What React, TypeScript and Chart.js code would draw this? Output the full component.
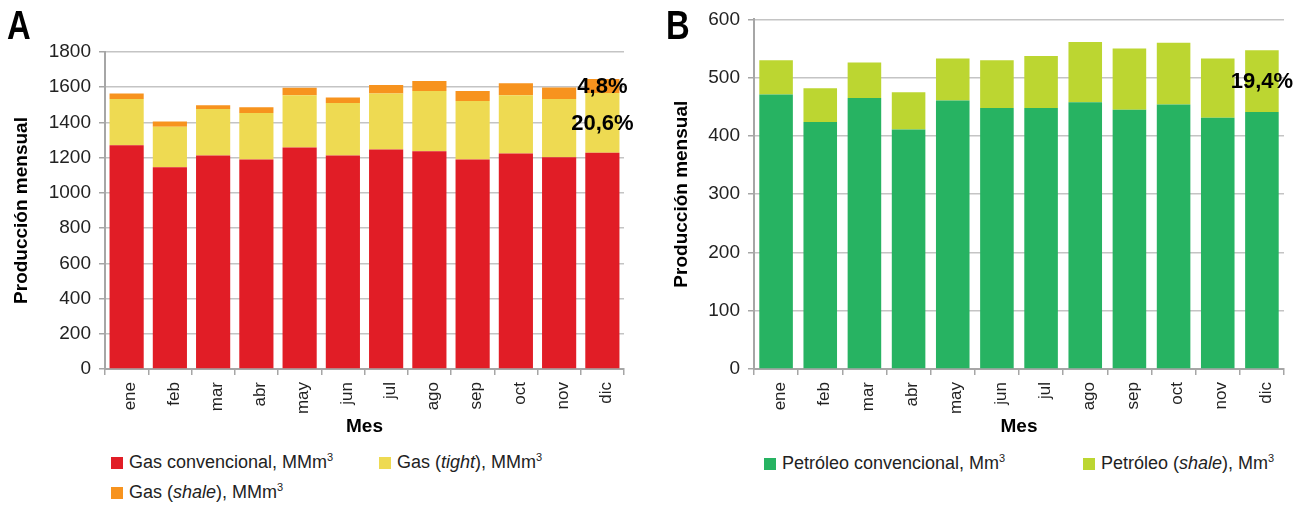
import React, { useEffect, useRef } from 'react';
import { Chart, registerables } from 'chart.js';

Chart.register(...registerables);

const months = ['ene', 'feb', 'mar', 'abr', 'may', 'jun', 'jul', 'ago', 'sep', 'oct', 'nov', 'dic'];
const gasConvencional = [1270, 1145, 1213, 1190, 1258, 1213, 1247, 1236, 1190, 1224, 1202, 1228];
const gasTight = [263, 231, 263, 264, 296, 297, 318, 343, 332, 330, 331, 339];
const gasShale = [32, 30, 21, 32, 43, 32, 48, 56, 57, 68, 66, 79];
const petroleoConvencional = [471, 424, 465, 411, 461, 448, 448, 458, 445, 454, 431, 441];
const petroleoShale = [59, 58, 61, 64, 72, 82, 89, 103, 105, 106, 102, 106];

const gasAxisMax = 1800;
const gasAxisStep = 200;
const oilAxisMax = 600;
const oilAxisStep = 100;

const FONT = "'Liberation Sans', Arial, sans-serif";

const RED = '#E11D26';
const YELLOW = '#EEDA52';
const ORANGE = '#F7931E';
const GREEN = '#27B362';
const LIME = '#BCD631';

// Draws the share (%) of the selected datasets in the last bar, centered in its segment
const shareLabelPlugin = {
  id: 'shareLabels',
  afterDatasetsDraw(chart: any) {
    const idxs: number[] = chart.options.plugins.shareLabels?.datasets || [];
    if (!idxs.length) return;
    const ctx = chart.ctx;
    const n = chart.data.labels.length;
    const last = n - 1;
    let total = 0;
    chart.data.datasets.forEach((d: any) => (total += d.data[last]));
    ctx.save();
    ctx.font = `bold 22px ${FONT}`;
    ctx.fillStyle = '#000';
    ctx.textAlign = 'center';
    ctx.textBaseline = 'middle';
    idxs.forEach((i) => {
      const meta = chart.getDatasetMeta(i);
      const el: any = meta.data[last];
      const v = chart.data.datasets[i].data[last];
      const pct = ((v / total) * 100).toFixed(1).replace('.', ',') + '%';
      ctx.fillText(pct, el.x, (el.y + el.base) / 2 + 1);
    });
    ctx.restore();
  },
};

function makeConfig(opts: {
  datasets: any[];
  yMax: number;
  yStep: number;
  yWidth: number;
  padTop: number;
  padRight: number;
  yTitlePad: number;
  barPct: number;
  shareIdx: number[];
}): any {
  return {
    type: 'bar',
    data: {
      labels: months,
      datasets: opts.datasets.map((d) => ({
        ...d,
        barPercentage: opts.barPct,
        categoryPercentage: 1,
        borderWidth: 0,
      })),
    },
    plugins: [shareLabelPlugin],
    options: {
      responsive: false,
      animation: false,
      devicePixelRatio: 1,
      layout: { padding: { top: opts.padTop, right: opts.padRight, left: 0, bottom: 0 } },
      plugins: {
        legend: { display: false },
        tooltip: { enabled: false },
        shareLabels: { datasets: opts.shareIdx },
      },
      scales: {
        x: {
          stacked: true,
          grid: {
            display: true,
            drawOnChartArea: false,
            drawTicks: true,
            tickLength: 6,
            color: '#A6A6A6',
            lineWidth: 1.5,
          },
          border: { display: true, color: '#A6A6A6', width: 2 },
          ticks: {
            minRotation: 90,
            maxRotation: 90,
            padding: 7,
            labelOffset: 4,
            color: '#222',
            font: { size: 17, family: FONT },
          },
          title: {
            display: true,
            text: 'Mes',
            color: '#000',
            font: { size: 19, weight: 'bold', family: FONT },
            padding: { top: 0, bottom: 2 },
          },
          afterFit: (s: any) => {
            s.height = 71;
          },
        },
        y: {
          stacked: true,
          min: 0,
          max: opts.yMax,
          ticks: {
            stepSize: opts.yStep,
            padding: 8,
            color: '#222',
            font: { size: 19, family: FONT },
            callback: (v: any) => String(v),
          },
          grid: {
            color: '#C4C4C4',
            lineWidth: 1.5,
            tickLength: 6,
            tickColor: '#A6A6A6',
          },
          border: { display: true, color: '#A6A6A6', width: 2 },
          title: {
            display: true,
            text: 'Producción mensual',
            color: '#000',
            font: { size: 19, weight: 'bold', family: FONT },
            padding: { top: opts.yTitlePad, bottom: 0 },
          },
          afterFit: (s: any) => {
            s.width = opts.yWidth;
          },
        },
      },
    },
  };
}

function BarChart(props: { config: any; width: number; height: number; left: number; top: number }) {
  const ref = useRef<HTMLCanvasElement | null>(null);
  useEffect(() => {
    if (!ref.current) return;
    const chart = new Chart(ref.current, props.config);
    return () => chart.destroy();
  }, []);
  return (
    <canvas
      ref={ref}
      width={props.width}
      height={props.height}
      style={{ position: 'absolute', left: props.left, top: props.top, width: props.width, height: props.height }}
    />
  );
}

const legendText: React.CSSProperties = {
  position: 'absolute',
  fontFamily: FONT,
  fontSize: 18,
  lineHeight: '20px',
  color: '#222',
  whiteSpace: 'nowrap',
  display: 'flex',
  alignItems: 'center',
};

const sup: React.CSSProperties = { fontSize: 11, position: 'relative', top: -7 };

function LegendItem(props: { left: number; top: number; color: string; children: React.ReactNode }) {
  return (
    <div style={{ ...legendText, left: props.left, top: props.top }}>
      <span style={{ display: 'inline-block', width: 12, height: 12, background: props.color, marginRight: 6 }} />
      <span>{props.children}</span>
    </div>
  );
}

const panelLetter: React.CSSProperties = {
  position: 'absolute',
  top: 5,
  fontFamily: FONT,
  fontWeight: 'bold',
  fontSize: 40,
  lineHeight: '40px',
  color: '#000',
  transform: 'scaleX(0.82)',
  transformOrigin: 'left top',
};

export default function App() {
  const configA = makeConfig({
    datasets: [
      { label: 'Gas convencional, MMm³', data: gasConvencional, backgroundColor: RED },
      { label: 'Gas (tight), MMm³', data: gasTight, backgroundColor: YELLOW },
      { label: 'Gas (shale), MMm³', data: gasShale, backgroundColor: ORANGE },
    ],
    yMax: gasAxisMax,
    yStep: gasAxisStep,
    yWidth: 105,
    padTop: 52,
    padRight: 26,
    yTitlePad: 10,
    barPct: 0.79,
    shareIdx: [1, 2],
  });
  const configB = makeConfig({
    datasets: [
      { label: 'Petróleo convencional, Mm³', data: petroleoConvencional, backgroundColor: GREEN },
      { label: 'Petróleo (shale), Mm³', data: petroleoShale, backgroundColor: LIME },
    ],
    yMax: oilAxisMax,
    yStep: oilAxisStep,
    yWidth: 99,
    padTop: 19,
    padRight: 25,
    yTitlePad: 15,
    barPct: 0.76,
    shareIdx: [1],
  });

  return (
    <div style={{ position: 'absolute', left: 0, top: 0, width: 1309, height: 507, background: '#fff', overflow: 'hidden' }}>
      <BarChart config={configA} width={650} height={440} left={0} top={0} />
      <BarChart config={configB} width={654} height={440} left={655} top={0} />
      <div style={{ ...panelLetter, left: 7 }}>A</div>
      <div style={{ ...panelLetter, left: 666 }}>B</div>

      <LegendItem left={111} top={452} color={RED}>
        Gas convencional, MMm<span style={sup}>3</span>
      </LegendItem>
      <LegendItem left={379} top={452} color={YELLOW}>
        Gas (<i>tight</i>), MMm<span style={sup}>3</span>
      </LegendItem>
      <LegendItem left={111} top={482} color={ORANGE}>
        Gas (<i>shale</i>), MMm<span style={sup}>3</span>
      </LegendItem>

      <LegendItem left={764} top={453} color={GREEN}>
        Petróleo convencional, Mm<span style={sup}>3</span>
      </LegendItem>
      <LegendItem left={1083} top={453} color={LIME}>
        Petróleo (<i>shale</i>), Mm<span style={sup}>3</span>
      </LegendItem>
    </div>
  );
}
